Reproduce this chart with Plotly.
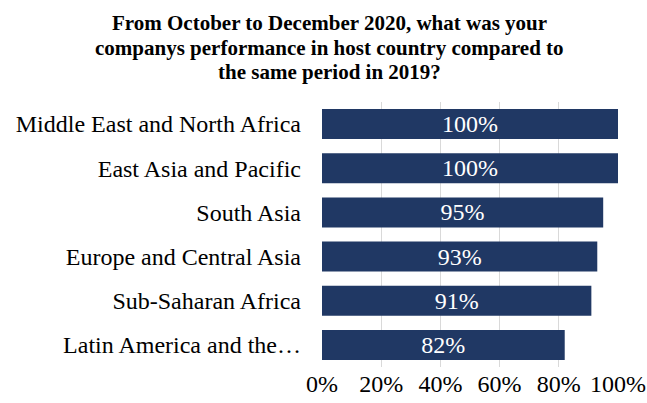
import plotly.graph_objects as go

regions = [
    "Middle East and North Africa",
    "East Asia and Pacific",
    "South Asia",
    "Europe and Central Asia",
    "Sub-Saharan Africa",
    "Latin America and the…",
]
shares = [1.00, 1.00, 0.95, 0.93, 0.91, 0.82]
tick_vals = [0, 0.2, 0.4, 0.6, 0.8, 1.0]
tick_text = ["0%", "20%", "40%", "60%", "80%", "100%"]
title_lines = [
    "From October to December 2020, what was your",
    "companys performance in host country compared to",
    "the same period in 2019?",
]

SERIF = "Liberation Serif, Times New Roman, serif"
BAR = "#203864"
GRID = "#d9d9d9"

fig = go.Figure()
fig.add_trace(go.Bar(
    x=shares, y=regions, orientation="h",
    marker=dict(color=BAR, line=dict(width=0)),
    text=[f"{v:.0%}" for v in shares],
    textposition="inside", insidetextanchor="middle", constraintext="none",
    textfont=dict(family=SERIF, size=24, color="white"),
    hoverinfo="skip",
))

# title lines as separate annotations: the reference uses tighter line spacing than plotly's <br>
for i, line in enumerate(title_lines):
    fig.add_annotation(
        text=line, xref="paper", yref="paper",
        x=0.027, y=1.298 - i * 0.0925,
        xanchor="center", yanchor="middle", showarrow=False,
        font=dict(family=SERIF, size=21, color="black", weight="bold"),
    )

fig.update_layout(
    width=647, height=403,
    paper_bgcolor="white", plot_bgcolor="white",
    margin=dict(l=322, r=29, t=102, b=36),
    bargap=0.32,
    showlegend=False,
    xaxis=dict(
        range=[0, 1], tickvals=tick_vals, ticktext=tick_text,
        showgrid=True, gridcolor=GRID, gridwidth=1,
        zeroline=False, showline=False, ticks="", automargin=False,
        tickfont=dict(family=SERIF, size=24, color="black"),
    ),
    yaxis=dict(
        autorange="reversed", showgrid=False, zeroline=False,
        showline=False, ticks="", ticklabelstandoff=20, automargin=False,
        tickfont=dict(family=SERIF, size=24, color="black"),
    ),
)

# drop the page's default body margin so the figure fills the window
fig.write_html(
    "out.html",
    config={"displayModeBar": False},
    post_script="document.body.style.margin='0';",
)
